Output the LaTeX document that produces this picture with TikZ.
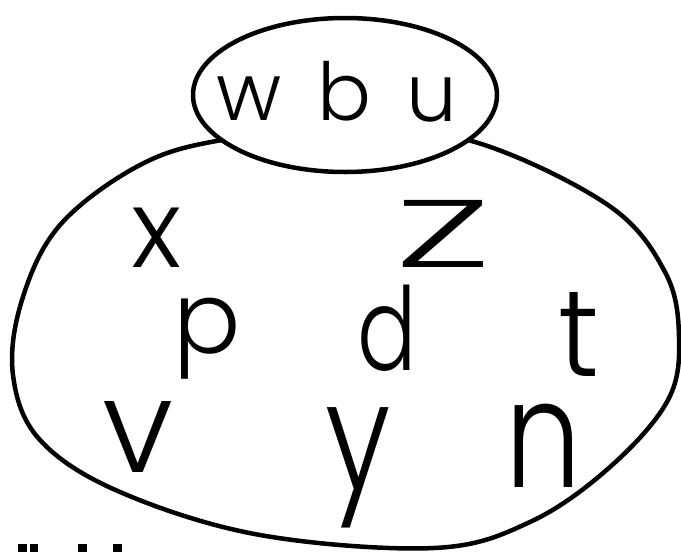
\documentclass[tikz,border=0pt]{standalone}
\usepackage{fontspec}
\setmainfont{Poppins}[UprightFont={* Light}]
\usepackage{graphicx}
\usetikzlibrary{shapes.geometric}
\begin{document}
\begin{tikzpicture}[x=1pt,y=-1pt,
  outline/.style={draw=black,line width=4.5pt,line join=round},
  lt/.style={inner sep=0pt,anchor=base,text=black}]
\useasboundingbox (0,0) rectangle (681,552);
% big blob
\draw[outline] plot[smooth cycle,tension=0.6] coordinates {
  (348,128) (222,140) (140,165) (60,225) (22,300) (13,375) (40,440)
  (120,492) (260,535) (434,548) (530,522) (610,467) (668,400) (679,337)
  (665,272) (608,205) (475,142)};
% small ellipse on top
\node[outline,fill=white,ellipse,minimum width=304pt,minimum height=154pt,inner sep=0pt] (top) at (345,95) {};
% letters in the small ellipse
\node[lt,font=\fontsize{80}{80}\selectfont] (w) at (249,120) {w};
\node[lt,font=\fontsize{80}{80}\selectfont] (b) at (344,120) {b};
\node[lt,font=\fontsize{80}{80}\selectfont] (u) at (432,121) {u};
% letters in the big blob
\node[lt,font=\fontsize{109}{109}\selectfont] (x) at (157,267) {x};
\node[lt,font=\fontsize{96}{96}\selectfont] (Z) at (443,267) {\scalebox{1.9}[1]{Z}};
\node[lt,font=\fontsize{100}{100}\selectfont] (p) at (207,353) {p};
\node[lt,font=\fontsize{110}{110}\selectfont] (d) at (387,370) {\scalebox{0.8}[1.05]{d}};
\node[lt,font=\fontsize{115}{115}\selectfont] (t) at (579,376) {\scalebox{1}[1.07]{t}};
\node[lt,font=\fontsize{130}{130}\selectfont] (v) at (138,472) {v};
\node[lt,font=\fontsize{120}{120}\selectfont] (y) at (358,489) {\scalebox{1}[1.25]{y}};
\node[lt,font=\fontsize{120}{120}\selectfont] (n) at (543,487) {\scalebox{1}[1.25]{n}};
% scan marks at the bottom left
\fill (18,544) rectangle (27,552);
\fill (30,544) rectangle (38,552);
\fill (78,544) rectangle (87,552);
\fill (113,544) rectangle (122,552);
\end{tikzpicture}
\end{document}
